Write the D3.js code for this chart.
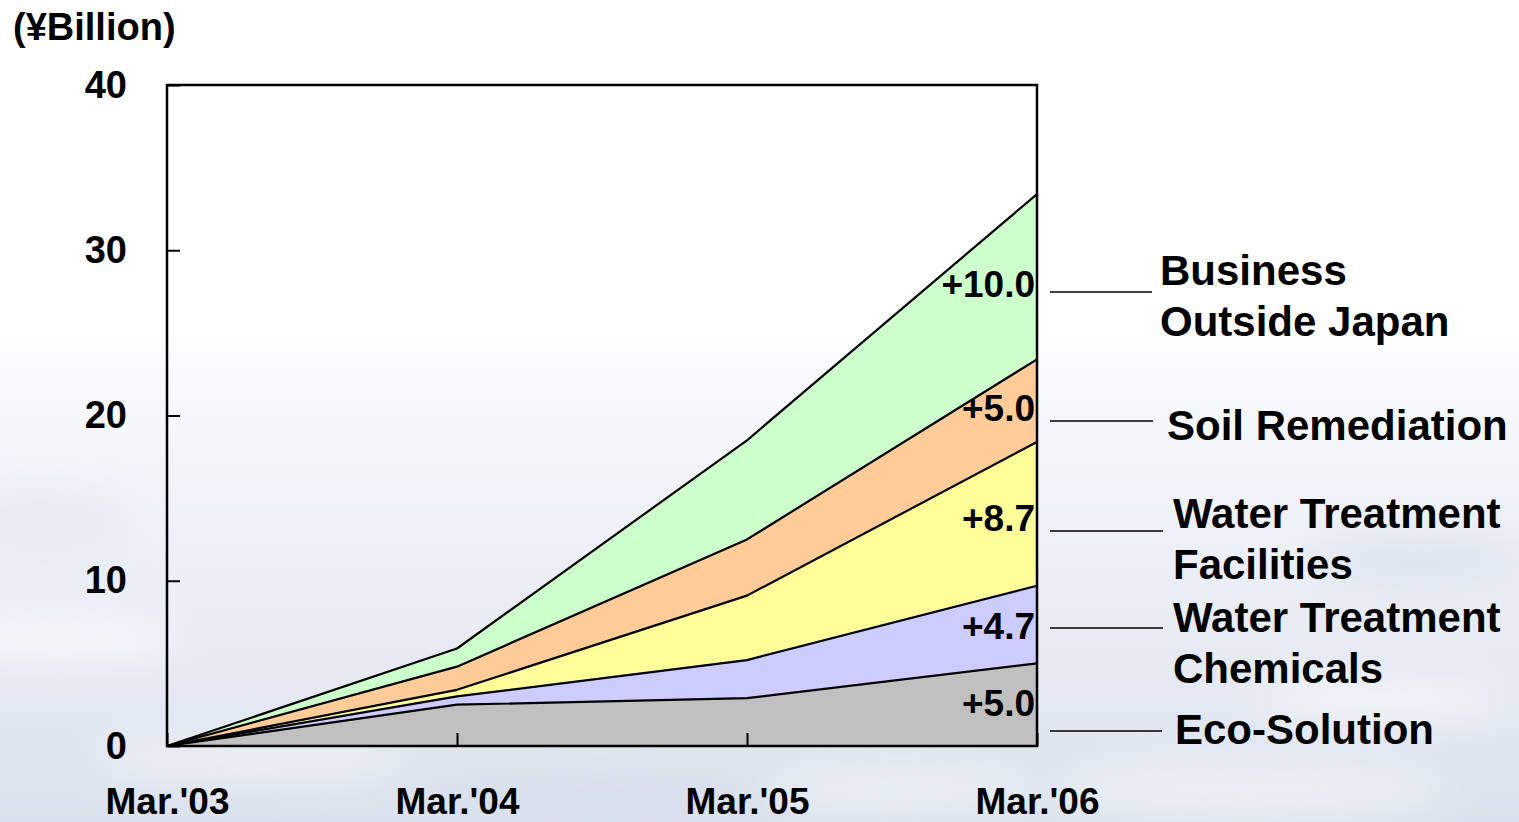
<!DOCTYPE html>
<html>
<head>
<meta charset="utf-8">
<script src="https://cdn.jsdelivr.net/npm/d3@7/dist/d3.min.js"></script>
<style>
  html, body { margin: 0; padding: 0; }
  body { width: 1519px; height: 822px; overflow: hidden; }
  svg text { font-family: "Liberation Sans", Arial, sans-serif; font-weight: bold; fill: #000; }
</style>
</head>
<body>
<svg id="chart" width="1519" height="822"></svg>
<script>
// Periods along the x axis
const periods = ["Mar.'03", "Mar.'04", "Mar.'05", "Mar.'06"];

// Cumulative sales increase by segment (¥ billion), bottom layer first
const ecoSolution      = [0, 2.5, 2.9, 5.0];
const waterChemicals   = [0, 0.5, 2.3, 4.7];
const waterFacilities  = [0, 0.4, 3.9, 8.7];
const soilRemediation  = [0, 1.4, 3.4, 5.0];
const outsideJapan     = [0, 1.1, 6.0, 10.0];

const seriesNames = [
  ["Eco-Solution"],
  ["Water Treatment", "Chemicals"],
  ["Water Treatment", "Facilities"],
  ["Soil Remediation"],
  ["Business", "Outside Japan"]
];
const seriesKeys = ["eco", "chem", "fac", "soil", "intl"];
const seriesColors = ["#c0c0c0", "#ccccff", "#ffff99", "#ffcc99", "#ccffcc"];

const yTicks = [0, 10, 20, 30, 40];
const unitLabel = "(¥Billion)";

// Build rows for d3.stack
const rows = periods.map((p, i) => ({
  period: p,
  eco: ecoSolution[i],
  chem: waterChemicals[i],
  fac: waterFacilities[i],
  soil: soilRemediation[i],
  intl: outsideJapan[i]
}));

const svg = d3.select("#chart");

// Sky-like backdrop
const defs = svg.append("defs");
const bg = defs.append("linearGradient").attr("id", "sky")
  .attr("x1", 0).attr("y1", 0).attr("x2", 0).attr("y2", 1);
[[0, "#ffffff"], [0.38, "#ffffff"], [0.55, "#f3f5fa"], [0.75, "#e8ecf5"], [1, "#dbe2ed"]]
  .forEach(([o, c]) => bg.append("stop").attr("offset", o).attr("stop-color", c));
const blur = defs.append("filter").attr("id", "soft").attr("x", "-50%").attr("y", "-50%")
  .attr("width", "200%").attr("height", "200%");
blur.append("feGaussianBlur").attr("stdDeviation", 18);

svg.append("rect").attr("width", 1519).attr("height", 822).attr("fill", "url(#sky)");

// faint cloud wisps near the bottom
const clouds = svg.append("g").attr("filter", "url(#soft)").attr("opacity", 0.55);
[[60, 640, 120, 25, "#ffffff"], [250, 760, 160, 22, "#f4f6fb"], [1250, 790, 200, 30, "#f5f7fb"],
 [1420, 560, 110, 30, "#d6deea"], [40, 520, 90, 30, "#dfe5ef"], [1380, 700, 130, 20, "#ffffff"],
 [600, 800, 180, 20, "#d3dbe8"], [900, 790, 140, 20, "#f7f9fc"]]
  .forEach(([cx, cy, rx, ry, c]) => clouds.append("ellipse")
    .attr("cx", cx).attr("cy", cy).attr("rx", rx).attr("ry", ry).attr("fill", c));

// Scales
const x = d3.scalePoint().domain(periods).range([167, 1037]);
const y = d3.scaleLinear().domain([0, 40]).range([746, 85]);

const stack = d3.stack().keys(seriesKeys);
const layers = stack(rows);

const area = d3.area()
  .x(d => x(d.data.period))
  .y0(d => y(d[0]))
  .y1(d => y(d[1]));

const line = d3.line()
  .x(d => x(d.data.period))
  .y(d => y(d[1]));

const plot = svg.append("g");
plot.selectAll("path.layer")
  .data(layers)
  .join("path")
  .attr("class", "layer")
  .attr("d", area)
  .attr("fill", (d, i) => seriesColors[i]);

plot.selectAll("path.edge")
  .data(layers)
  .join("path")
  .attr("class", "edge")
  .attr("d", line)
  .attr("fill", "none")
  .attr("stroke", "#000")
  .attr("stroke-width", 2.2)
  .attr("stroke-linejoin", "round");

// Value labels at the last period, centred in each layer
const last = periods.length - 1;
const valueLabelNudge = [-2, 2, 4, 7, 7];
plot.selectAll("text.val")
  .data(layers)
  .join("text")
  .attr("class", "val")
  .attr("x", x(periods[last]) - 2)
  .attr("y", (d, i) => y((d[last][0] + d[last][1]) / 2) + valueLabelNudge[i])
  .attr("dy", "0.35em")
  .attr("text-anchor", "end")
  .attr("font-size", 37)
  .text(d => "+" + (d[last][1] - d[last][0]).toFixed(1));

// Axes with inward ticks
const yAxis = svg.append("g")
  .attr("transform", `translate(${x.range()[0]},0)`)
  .call(d3.axisLeft(y).tickValues(yTicks).tickSize(-13).tickPadding(40).tickFormat(d3.format("d")));
yAxis.select(".domain").remove();
yAxis.selectAll("line").attr("stroke", "#000").attr("stroke-width", 2);
yAxis.selectAll("text").attr("font-size", 38).style("font-family", "Liberation Sans, Arial, sans-serif")
  .style("font-weight", "bold");

const xAxis = svg.append("g")
  .attr("transform", `translate(0,${y(0)})`)
  .call(d3.axisBottom(x).tickSize(-13).tickPadding(42));
xAxis.select(".domain").remove();
xAxis.selectAll("line").attr("stroke", "#000").attr("stroke-width", 2);
xAxis.selectAll("text").attr("font-size", 37).style("font-family", "Liberation Sans, Arial, sans-serif")
  .style("font-weight", "bold");

// Plot frame
svg.append("rect")
  .attr("x", x.range()[0]).attr("y", y(40))
  .attr("width", x.range()[1] - x.range()[0])
  .attr("height", y(0) - y(40))
  .attr("fill", "none").attr("stroke", "#000").attr("stroke-width", 2.5);

// Unit label
svg.append("text").attr("x", 13).attr("y", 40).attr("font-size", 38).text(unitLabel);

// Segment names with leader lines
const nameX = [1175, 1173, 1173, 1167, 1160];
const leaderY = [731, 628, 531, 421, 292];
const leaderEnd = [1162, 1163, 1163, 1153, 1152];
const firstBaseline = [744, 632, 528, 440, 285];
const names = svg.append("g");
seriesNames.forEach((lines, i) => {
  names.append("line")
    .attr("x1", x.range()[1] + 13).attr("x2", leaderEnd[i])
    .attr("y1", leaderY[i]).attr("y2", leaderY[i])
    .attr("stroke", "#000").attr("stroke-width", 1.5);
  const t = names.append("text").attr("x", nameX[i]).attr("y", firstBaseline[i]).attr("font-size", 42);
  lines.forEach((s, j) => t.append("tspan").attr("x", nameX[i]).attr("dy", j ? 51 : 0).text(s));
});
</script>
</body>
</html>
